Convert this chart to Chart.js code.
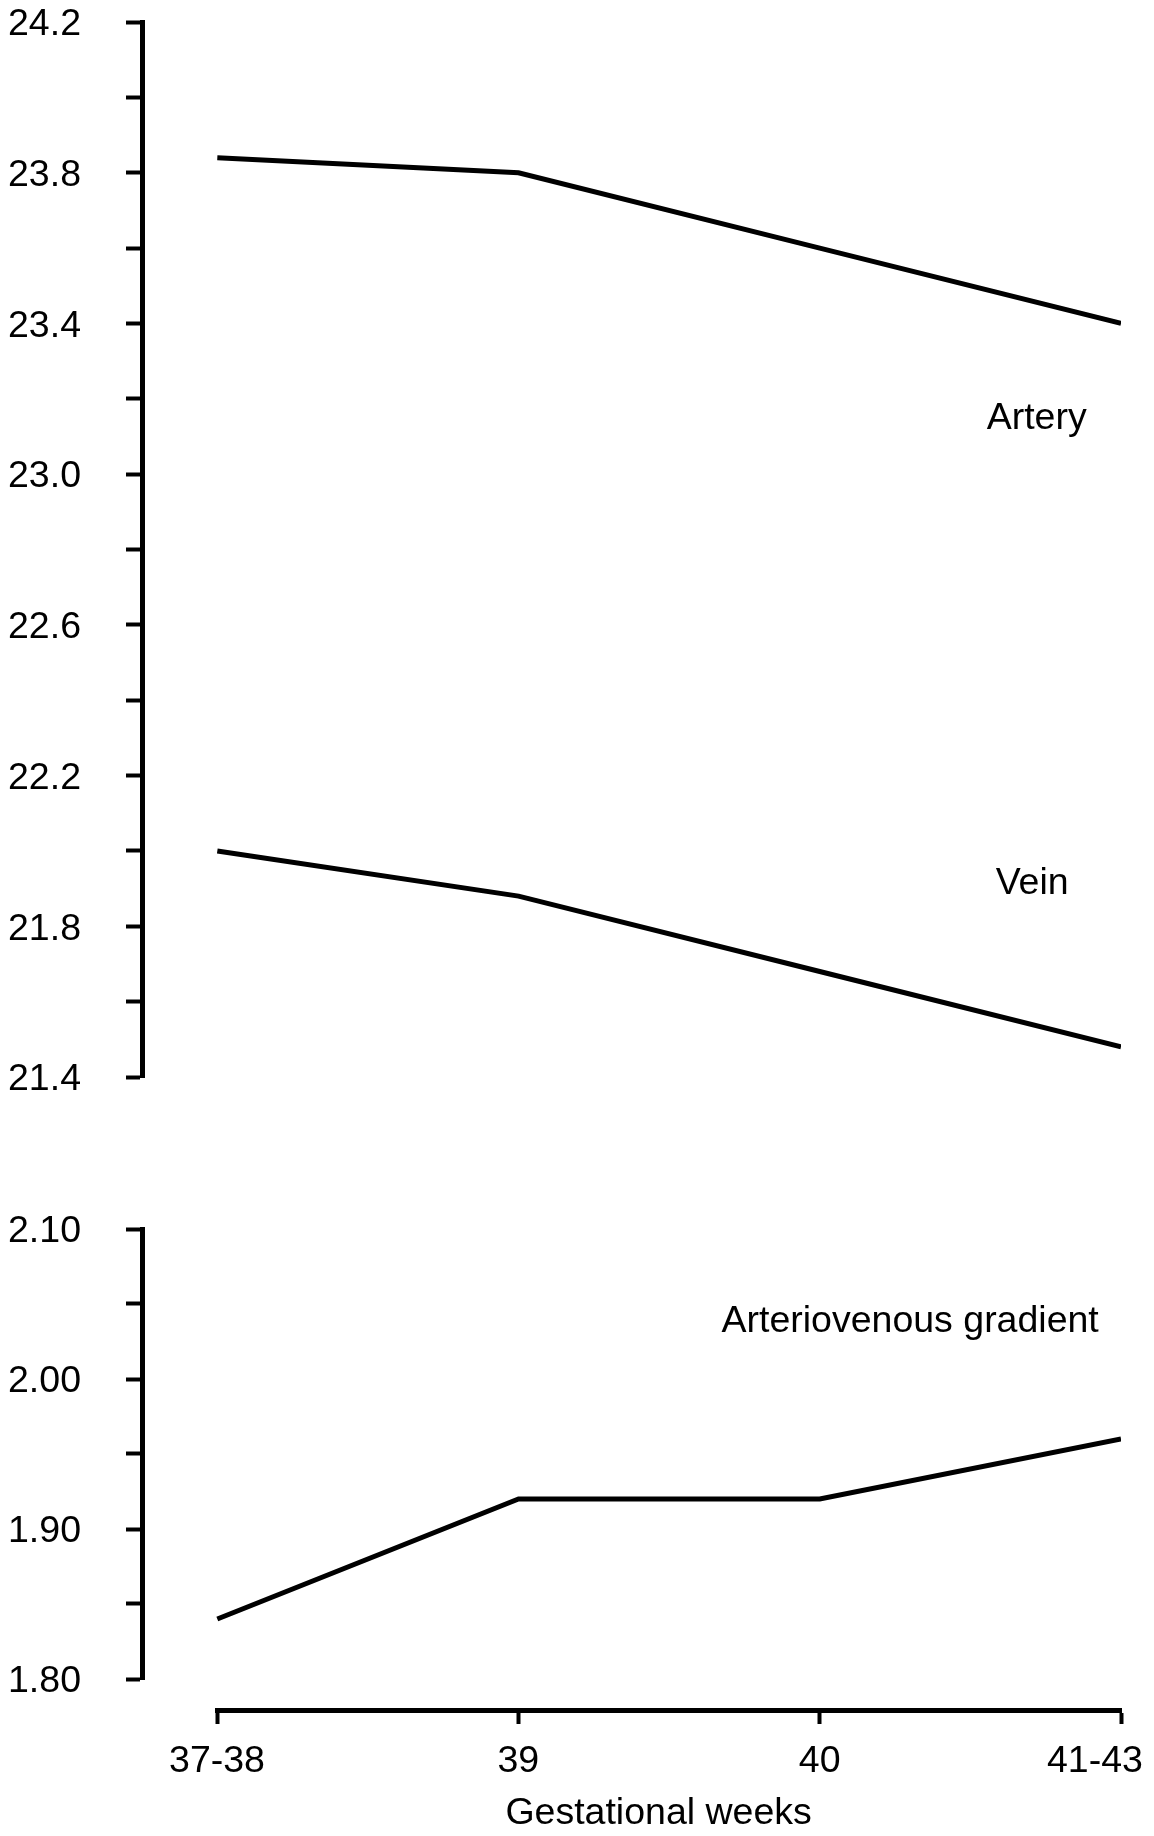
<!DOCTYPE html>
<html>
<head>
<meta charset="utf-8">
<title>Gestational weeks</title>
<script src="https://cdn.jsdelivr.net/npm/chart.js@4.4.1/dist/chart.umd.min.js"></script>
<style>
  html, body { margin: 0; padding: 0; background: #fff; overflow: hidden; }
  #wrap { position: relative; width: 1154px; height: 1836px; }
  canvas { position: absolute; left: 0; }
</style>
</head>
<body>
<div id="wrap">
  <canvas id="topChart" width="1154" height="1100" style="top:0"></canvas>
  <canvas id="bottomChart" width="1154" height="500" style="top:1200px"></canvas>
  <canvas id="axisChart" width="1154" height="146" style="top:1690px"></canvas>
</div>
<script>
// data
const weeks = ['37-38', '39', '40', '41-43'];
const artery = [23.84, 23.80, 23.60, 23.40];
const vein = [22.00, 21.88, 21.68, 21.48];
const gradient = [1.84, 1.92, 1.92, 1.96];

// labelled ticks (minor ticks sit half way between)
const topTicks = [21.4, 21.8, 22.2, 22.6, 23.0, 23.4, 23.8, 24.2];
const bottomTicks = [1.80, 1.90, 2.00, 2.10];

Chart.defaults.font.family = "'Liberation Sans', Arial, sans-serif";
Chart.defaults.font.size = 37.5;
Chart.defaults.color = '#000';

const FONT = "37.5px 'Liberation Sans', Arial, sans-serif";

// draws the series names next to the curves, placed in data units
const curveLabels = {
  id: 'curveLabels',
  afterDatasetsDraw(chart, args, opts) {
    const ctx = chart.ctx;
    const x = chart.scales.x, y = chart.scales.y;
    ctx.save();
    ctx.font = FONT;
    ctx.fillStyle = '#000';
    ctx.textAlign = 'center';
    ctx.textBaseline = 'middle';
    (opts.items || []).forEach(it => {
      ctx.fillText(it.text, x.getPixelForValue(it.x), y.getPixelForValue(it.y));
    });
    ctx.restore();
  }
};

function toPoints(values) {
  return values.map((v, i) => ({ x: i, y: v }));
}

function lineSet(label, values) {
  return {
    label: label,
    data: toPoints(values),
    borderColor: '#000',
    borderWidth: 5,
    pointRadius: 0,
    tension: 0,
    borderJoinStyle: 'miter',
    fill: false
  };
}

function yAxis(tickList, digits) {
  const step = (tickList[1] - tickList[0]) / 2;
  return {
    type: 'linear',
    min: tickList[0],
    max: tickList[tickList.length - 1],
    afterFit(scale) {
      scale.width = 142;
      scale.paddingTop = 0;
      scale.paddingBottom = 0;
    },
    border: { display: true, color: '#000', width: 5 },
    grid: { drawOnChartArea: false, drawTicks: true, tickLength: 16, tickWidth: 4, tickColor: '#000' },
    ticks: {
      stepSize: step,
      padding: 45,
      labelOffset: 3,
      autoSkip: false,
      callback: v => tickList.some(t => Math.abs(t - v) < 1e-6) ? Number(v).toFixed(digits) : ''
    }
  };
}

const hiddenX = { type: 'linear', min: -0.25, max: 3, display: false };

const common = {
  responsive: false,
  animation: false,
  events: [],
  plugins: { legend: { display: false }, tooltip: { enabled: false } }
};

new Chart(document.getElementById('topChart'), {
  type: 'line',
  data: { datasets: [lineSet('Artery', artery), lineSet('Vein', vein)] },
  plugins: [curveLabels],
  options: {
    ...common,
    layout: { padding: { top: 22, bottom: 23, left: 0, right: 33 } },
    scales: { x: hiddenX, y: yAxis(topTicks, 1) },
    plugins: {
      ...common.plugins,
      curveLabels: { items: [
        { text: 'Artery', x: 2.72, y: 23.147 },
        { text: 'Vein', x: 2.705, y: 21.912 }
      ] }
    }
  }
});

new Chart(document.getElementById('bottomChart'), {
  type: 'line',
  data: { datasets: [lineSet('Arteriovenous gradient', gradient)] },
  plugins: [curveLabels],
  options: {
    ...common,
    layout: { padding: { top: 29, bottom: 21, left: 0, right: 33 } },
    scales: { x: hiddenX, y: yAxis(bottomTicks, 2) },
    plugins: {
      ...common.plugins,
      curveLabels: { items: [
        { text: 'Arteriovenous gradient', x: 2.3, y: 2.038 }
      ] }
    }
  }
});

// shared x axis under both panels
new Chart(document.getElementById('axisChart'), {
  type: 'line',
  data: { datasets: [] },
  options: {
    ...common,
    layout: { padding: { top: 19, bottom: 0, left: 217, right: 33 } },
    scales: {
      y: { display: false },
      x: {
        type: 'linear',
        min: 0,
        max: weeks.length - 1,
        afterFit(scale) {
          scale.height = 126;
          scale.paddingLeft = 0;
          scale.paddingRight = 0;
        },
        border: { display: true, color: '#000', width: 5 },
        grid: { drawOnChartArea: false, drawTicks: true, tickLength: 14, tickWidth: 4, tickColor: '#000' },
        ticks: {
          stepSize: 1,
          padding: 15,
          autoSkip: false,
          maxRotation: 0,
          // last label sits pulled in from the right edge, as in the figure
          callback: (v, i) => i === weeks.length - 1 ? weeks[i] + '\u00a0'.repeat(5) : weeks[i]
        },
        title: {
          display: true,
          // title sits a little left of the axis centre in the figure
          text: 'Gestational weeks' + '\u00a0'.repeat(2),
          padding: { top: 19, bottom: 0 }
        }
      }
    }
  }
});
</script>
</body>
</html>
